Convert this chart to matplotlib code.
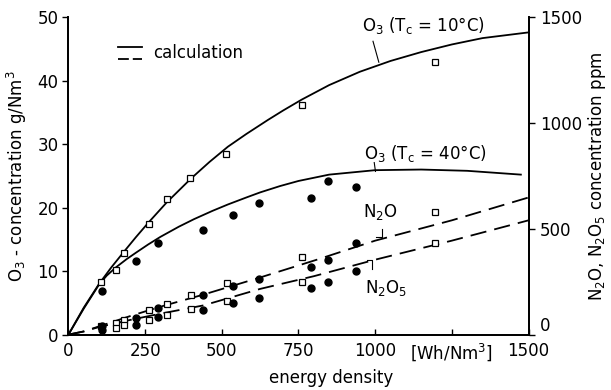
import matplotlib
matplotlib.use("Agg")
import matplotlib.pyplot as plt

plt.rcParams['font.family'] = ['DejaVu Sans']

# ---------------- data ----------------
# calculated O3 curves (energy density Wh/Nm3, g/Nm3)
o3_10_curve_x = [0, 50, 100, 140, 180, 220, 260, 320, 400, 460, 520, 580, 650, 700, 760,
                 850, 950, 1050, 1150, 1250, 1350, 1500]
o3_10_curve_y = [0, 4.25, 8.0, 10.6, 13.0, 15.35, 17.6, 20.8, 24.6, 27.2, 29.6, 31.6, 33.8,
                 35.3, 37.0, 39.3, 41.4, 43.1, 44.5, 45.7, 46.7, 47.6]
o3_40_curve_x = [0, 50, 100, 125, 155, 190, 220, 260, 300, 360, 410, 470, 520, 580, 625,
                 690, 750, 850, 1000, 1150, 1300, 1475]
o3_40_curve_y = [0, 4.1, 7.9, 9.3, 10.6, 11.9, 12.9, 14.2, 15.4, 17.0, 18.2, 19.5, 20.5,
                 21.6, 22.4, 23.4, 24.2, 25.2, 25.9, 26.0, 25.8, 25.2]

# measured O3
o3_10_x = [107, 154, 182, 263, 321, 397, 514, 760, 1195]
o3_10_y = [8.3, 10.2, 12.9, 17.5, 21.4, 24.6, 28.5, 36.2, 43.0]
o3_40_x = [109, 221, 291, 440, 538, 621, 790, 846, 938]
o3_40_y = [6.8, 11.6, 14.5, 16.5, 18.9, 20.7, 21.5, 24.2, 23.3]

# calculated N2O / N2O5 (ppm)
n2o_curve_x = [0, 50, 100, 200, 300, 440, 625, 810, 1000, 1250, 1500]
n2o_curve_y = [0, 15, 39, 87, 132, 189, 270, 354, 444, 540, 648]
n2o5_curve_x = [0, 50, 100, 200, 300, 440, 625, 800, 1000, 1250, 1500]
n2o5_curve_y = [0, 15, 36, 69, 99, 138, 216, 276, 354, 444, 540]

# measured N2O / N2O5 (ppm)
n2o_open_x = [107, 154, 182, 263, 321, 399, 516, 761, 1195]
n2o_open_y = [39, 57, 69, 117, 144, 186, 246, 366, 579]
n2o5_open_x = [154, 182, 263, 321, 399, 516, 761, 1195]
n2o5_open_y = [30, 45, 69, 93, 123, 159, 249, 435]
n2o_fill_x = [109, 221, 291, 440, 538, 621, 790, 846, 938]
n2o_fill_y = [42, 78, 126, 189, 228, 261, 321, 351, 435]
n2o5_fill_x = [109, 221, 291, 440, 538, 621, 790, 846, 938]
n2o5_fill_y = [21, 45, 81, 117, 150, 174, 219, 249, 300]

x_ticks = [0, 250, 500, 750, 1000, 1250, 1500]
x_ticklabels = ['0', '250', '500', '750', '1000', '[Wh/Nm$^3$]', '1500']
left_ticks = [0, 10, 20, 30, 40, 50]
right_ticks = [0, 500, 1000, 1500]

# ---------------- figure ----------------
fig = plt.figure(figsize=(6.11, 3.90), dpi=100)
fig.subplots_adjust(left=0.112, right=0.865, bottom=0.142, top=0.956)
ax = fig.add_subplot(111)
ax2 = ax.twinx()

k = 'black'
lw = 1.3
dash = (0, (9, 4.5))

ax.plot(o3_10_curve_x, o3_10_curve_y, color=k, lw=lw)
ax.plot(o3_40_curve_x, o3_40_curve_y, color=k, lw=lw)
ax.plot(o3_10_x, o3_10_y, ls='none', marker='s', ms=4, mfc='white', mec=k, mew=0.9)
ax.plot(o3_40_x, o3_40_y, ls='none', marker='o', ms=5, mfc=k, mec=k)

ax2.plot(n2o_curve_x, n2o_curve_y, color=k, lw=lw, ls=dash)
ax2.plot(n2o5_curve_x, n2o5_curve_y, color=k, lw=lw, ls=dash)
ax2.plot(n2o_open_x, n2o_open_y, ls='none', marker='s', ms=4, mfc='white', mec=k, mew=0.9)
ax2.plot(n2o5_open_x, n2o5_open_y, ls='none', marker='s', ms=4, mfc='white', mec=k, mew=0.9)
ax2.plot(n2o_fill_x, n2o_fill_y, ls='none', marker='o', ms=5, mfc=k, mec=k)
ax2.plot(n2o5_fill_x, n2o5_fill_y, ls='none', marker='o', ms=5, mfc=k, mec=k)

ax.set_xlim(0, 1500)
ax.set_ylim(0, 50)
ax2.set_ylim(0, 1500)

ax.set_xticks(x_ticks)
ax.set_xticklabels(x_ticklabels)
ax.set_yticks(left_ticks)
ax2.set_yticks(right_ticks)

fs = 12
for a in (ax, ax2):
    a.spines['top'].set_visible(False)
    for s in a.spines.values():
        s.set_linewidth(1.3)
ax.tick_params(axis='x', direction='in', length=4, width=1, labelsize=fs, pad=5)
ax.tick_params(axis='y', direction='out', length=4, width=1, labelsize=fs, pad=3)
ax2.tick_params(axis='y', direction='out', length=4, width=1, labelsize=fs, pad=4)
for lab in ax2.get_yticklabels():
    if lab.get_text() == '0':
        lab.set_va('bottom')

ax.set_ylabel('O$_3$ - concentration g/Nm$^3$', fontsize=fs, labelpad=6)
ax2.set_ylabel('N$_2$O, N$_2$O$_5$ concentration ppm', fontsize=fs, labelpad=3)
fig.text(0.542, 0.03, 'energy density', fontsize=fs, ha='center', va='center')

# curve labels
ax.text(1157, 48.7, 'O$_3$ (T$_\\mathrm{c}$ = 10°C)', fontsize=fs, ha='center', va='center')
ax.plot([993, 1012], [46.2, 42.9], color=k, lw=0.8)
ax.text(1163, 28.6, 'O$_3$ (T$_\\mathrm{c}$ = 40°C)', fontsize=fs, ha='center', va='center')
ax.plot([997, 1001], [27.1, 25.7], color=k, lw=0.8)
ax.text(1016, 19.3, 'N$_2$O', fontsize=fs, ha='center', va='center')
ax.plot([1022, 1022, 1004], [16.6, 15.3, 15.3], color=k, lw=0.8)
ax.text(1036, 7.4, 'N$_2$O$_5$', fontsize=fs, ha='center', va='center')
ax.plot([972, 990, 990], [11.7, 11.7, 10.4], color=k, lw=0.8)

# legend
ax.plot([0.108, 0.160], [0.906, 0.906], transform=ax.transAxes, color=k, lw=lw)
ax.plot([0.108, 0.160], [0.867, 0.867], transform=ax.transAxes, color=k, lw=lw,
        ls=(0, (6, 2.2)))
ax.text(0.183, 0.886, 'calculation', transform=ax.transAxes, fontsize=fs,
        ha='left', va='center')

fig.savefig('out.png', dpi=100)
